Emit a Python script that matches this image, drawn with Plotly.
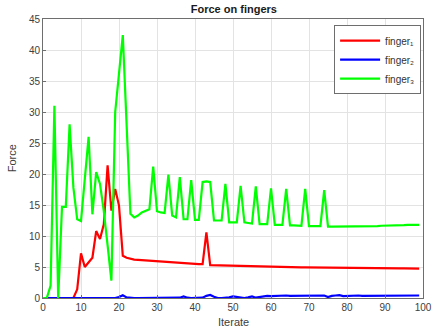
import plotly.graph_objects as go

iterations = list(range(100))

finger1 = [0, 0, 0, 0, 0, 0, 0, 0, 0, 1.4,
           7.2, 5.0, 5.7, 6.5, 10.8, 9.5, 11.9, 21.4, 14.1, 17.6,
           14.9, 6.8, 6.5, 6.3, 6.2, 6.15, 6.1, 6.05, 6.0, 5.95,
           5.9, 5.85, 5.8, 5.75, 5.7, 5.68, 5.65, 5.6, 5.57, 5.53,
           5.5, 5.47, 5.45, 10.6, 5.3, 5.28, 5.26, 5.24, 5.22, 5.2,
           5.18, 5.16, 5.14, 5.12, 5.1, 5.08, 5.06, 5.05, 5.04, 5.03,
           5.02, 5.01, 5.0, 4.99, 4.98, 4.97, 4.96, 4.95, 4.94, 4.93,
           4.92, 4.91, 4.9, 4.89, 4.88, 4.87, 4.86, 4.86, 4.85, 4.85,
           4.84, 4.84, 4.83, 4.83, 4.82, 4.82, 4.81, 4.81, 4.8, 4.8,
           4.79, 4.79, 4.78, 4.78, 4.77, 4.77, 4.76, 4.76, 4.75, 4.75]

finger2 = [0, 0, 0, 0, 0, 0, 0, 0, 0, 0,
           0, 0, 0, 0, 0, 0, 0, 0, 0, 0,
           0.15, 0.45, 0.1, 0, 0, 0, 0, 0, 0, 0,
           0, 0, 0, 0, 0, 0, 0.05, 0.25, 0.05, 0,
           0, 0, 0.05, 0.35, 0.5, 0.2, 0, 0, 0, 0.1,
           0.25, 0.15, 0.05, 0, 0.1, 0.25, 0.05, 0.15, 0.3, 0.35,
           0.3, 0.35, 0.3, 0.35, 0.4, 0.35, 0.35, 0.4, 0.35, 0.4,
           0.45, 0.4, 0.4, 0.45, 0.4, 0.15, 0.35, 0.4, 0.45, 0.3,
           0.35, 0.35, 0.35, 0.4, 0.35, 0.35, 0.35, 0.4, 0.35, 0.35,
           0.35, 0.4, 0.35, 0.35, 0.4, 0.35, 0.35, 0.4, 0.4, 0.4]

finger3 = [0, 0, 2, 31, 0, 14.7, 14.7, 28, 17.8, 12.7,
           12.4, 19.2, 26, 13.5, 20.3, 18.4, 14, 8.5, 2.8, 30,
           36.2, 42.4, 28, 13.6, 13, 13.3, 13.8, 14.1, 14.3, 21.2,
           14, 13.8, 13.7, 19.9, 13.3, 13, 19.5, 12.7, 12.7, 19,
           12.6, 12.6, 18.7, 18.8, 18.7, 12.5, 12.5, 12.5, 18.4, 12.2,
           12.2, 12.2, 18.1, 12.2, 12.1, 12.0, 18, 11.9, 11.9, 11.9,
           17.7, 11.8, 11.8, 11.8, 17.6, 11.7, 11.7, 11.7, 11.65, 17.6,
           11.6, 11.6, 11.6, 11.6, 17.4, 11.5, 11.5, 11.5, 11.5, 11.5,
           11.5, 11.5, 11.5, 11.5, 11.5, 11.5, 11.55, 11.6, 11.6, 11.65,
           11.65, 11.7, 11.7, 11.7, 11.75, 11.75, 11.8, 11.8, 11.8, 11.8]

series = [
    ("finger₁", finger1, "#ff0000"),
    ("finger₂", finger2, "#0000ff"),
    ("finger₃", finger3, "#00ff00"),
]

x_ticks = list(range(0, 101, 10))
y_ticks = list(range(0, 46, 5))

fig = go.Figure()
for name, vals, color in series:
    fig.add_trace(go.Scatter(x=iterations, y=vals, mode="lines", name=name,
                             line=dict(color=color, width=2.2)))

axis_common = dict(
    showgrid=True, gridcolor="#e3e3e3", gridwidth=1,
    showline=True, linecolor="#6e6e6e", linewidth=1, mirror=True,
    ticks="inside", ticklen=3, tickcolor="#6e6e6e",
    zeroline=False, tickfont=dict(size=10, color="#404040"),
    automargin=False,
)

fig.update_layout(
    width=433, height=335,
    margin=dict(l=43, r=10, t=19, b=37),
    paper_bgcolor="white", plot_bgcolor="white",
    font=dict(family="Liberation Sans, Arial, sans-serif", color="#404040"),
    title=dict(text="<b>Force on fingers</b>", x=0.54, xanchor="center",
               y=0.985, yanchor="top", font=dict(size=11, color="#1a1a1a")),
    xaxis=dict(range=[0, 100], tickvals=x_ticks, **axis_common),
    yaxis=dict(range=[0, 45], tickvals=y_ticks, **axis_common),
    legend=dict(x=0.995, y=0.978, xanchor="right", yanchor="top",
                bordercolor="#6e6e6e", borderwidth=1, bgcolor="white",
                font=dict(size=10, color="#333333"),
                tracegroupgap=0, itemwidth=40),
    showlegend=True,
    annotations=[
        dict(text="Iterate", xref="paper", yref="paper", x=0.5, y=-0.086,
             xanchor="center", yanchor="middle", showarrow=False,
             font=dict(size=11, color="#404040")),
        dict(text="Force", xref="paper", yref="paper", x=-0.082, y=0.5,
             xanchor="center", yanchor="middle", textangle=-90,
             showarrow=False, font=dict(size=11, color="#404040")),
    ],
)

fig.write_html(
    "out.html",
    config={"displayModeBar": False},
    post_script="document.body.style.margin='0';document.body.style.padding='0';",
)
